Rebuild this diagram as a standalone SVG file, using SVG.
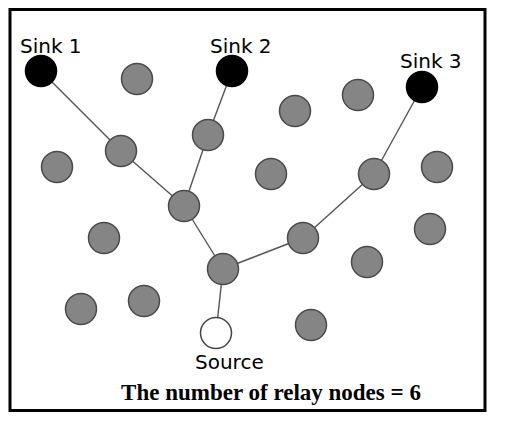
<svg xmlns="http://www.w3.org/2000/svg" width="505" height="422" viewBox="0 0 505 422">
<style>
.relay{fill:#858585;stroke:#4a4a4a;stroke-width:1.5}
.sink{fill:#000;stroke:#000;stroke-width:1.5}
.src{fill:#fff;stroke:#444;stroke-width:1.5}
.lbl{font-family:"DejaVu Sans",Verdana,sans-serif;font-size:20px;fill:#000}
.title{font-family:"Liberation Serif","Times New Roman",serif;font-size:23px;font-weight:bold;fill:#000}
#edges line{stroke:#555;stroke-width:1.4}
</style>
<rect x="0" y="0" width="505" height="422" fill="#fff"/>
<rect x="10" y="9.5" width="475" height="401" fill="#fff" stroke="#000" stroke-width="3"/>
<g id="edges">
<line x1="41" y1="71" x2="121" y2="151"/>
<line x1="121" y1="151" x2="184" y2="206"/>
<line x1="232" y1="71" x2="208" y2="135"/>
<line x1="208" y1="135" x2="184" y2="206"/>
<line x1="184" y1="206" x2="223" y2="269"/>
<line x1="223" y1="269" x2="303" y2="238"/>
<line x1="303" y1="238" x2="374" y2="174"/>
<line x1="374" y1="174" x2="422" y2="87"/>
<line x1="223" y1="269" x2="216" y2="333"/>
</g>
<g id="sink1"><circle class="sink" cx="41" cy="71" r="15.5"/><text class="lbl" x="20" y="53">Sink 1</text></g>
<g id="sink2"><circle class="sink" cx="232" cy="71" r="15.5"/><text class="lbl" x="210" y="53">Sink 2</text></g>
<g id="sink3"><circle class="sink" cx="422" cy="87" r="15.5"/><text class="lbl" x="400" y="68">Sink 3</text></g>
<g id="source"><circle class="src" cx="216" cy="333" r="15.5"/><text class="lbl" x="195" y="369">Source</text></g>
<g id="n1"><circle class="relay" cx="137" cy="79" r="15.5"/></g>
<g id="n2"><circle class="relay" cx="295" cy="111" r="15.5"/></g>
<g id="n3"><circle class="relay" cx="358" cy="95" r="15.5"/></g>
<g id="n4"><circle class="relay" cx="121" cy="151" r="15.5"/></g>
<g id="n5"><circle class="relay" cx="208" cy="135" r="15.5"/></g>
<g id="n6"><circle class="relay" cx="57" cy="167" r="15.5"/></g>
<g id="n7"><circle class="relay" cx="271" cy="174" r="15.5"/></g>
<g id="n8"><circle class="relay" cx="374" cy="174" r="15.5"/></g>
<g id="n9"><circle class="relay" cx="437" cy="167" r="15.5"/></g>
<g id="n10"><circle class="relay" cx="184" cy="206" r="15.5"/></g>
<g id="n11"><circle class="relay" cx="104" cy="238" r="15.5"/></g>
<g id="n12"><circle class="relay" cx="303" cy="238" r="15.5"/></g>
<g id="n13"><circle class="relay" cx="430" cy="229" r="15.5"/></g>
<g id="n14"><circle class="relay" cx="223" cy="269" r="15.5"/></g>
<g id="n15"><circle class="relay" cx="367" cy="262" r="15.5"/></g>
<g id="n16"><circle class="relay" cx="81" cy="309" r="15.5"/></g>
<g id="n17"><circle class="relay" cx="144" cy="301" r="15.5"/></g>
<g id="n18"><circle class="relay" cx="311" cy="325" r="15.5"/></g>
<text class="title" x="271" y="400" text-anchor="middle">The number of relay nodes = 6</text>
</svg>
